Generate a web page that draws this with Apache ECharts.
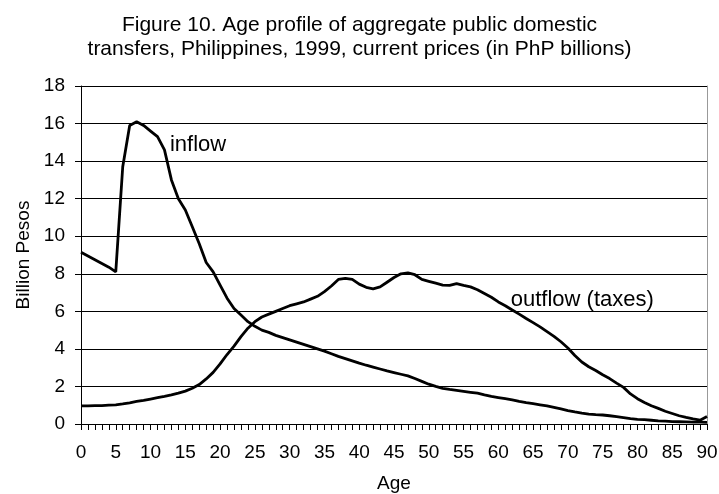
<!DOCTYPE html>
<html><head><meta charset="utf-8">
<script src="https://cdn.jsdelivr.net/npm/echarts@6/dist/echarts.min.js"></script>
<style>html,body{margin:0;padding:0;background:#fff}#c{width:719px;height:494px}</style>
</head><body><div id="c"></div>
<script>
var ages = [];
for (var a = 0; a <= 90; a++) ages.push(String(a));
var inflow = [9.15,8.95,8.75,8.55,8.35,8.1,13.7,15.9,16.1,15.9,15.6,15.3,14.6,13.0,12.0,11.4,10.5,9.6,8.6,8.1,
7.4,6.7,6.15,5.8,5.45,5.2,5.0,4.88,4.72,4.6,4.48,4.36,4.24,4.12,4.0,3.88,3.74,3.6,3.48,3.36,
3.24,3.13,3.03,2.93,2.83,2.74,2.65,2.56,2.42,2.27,2.12,2.0,1.9,1.84,1.79,1.74,1.69,1.64,1.55,1.47,
1.41,1.35,1.29,1.21,1.14,1.08,1.02,0.96,0.88,0.8,0.71,0.64,0.58,0.53,0.5,0.48,0.44,0.39,0.34,0.29,
0.25,0.23,0.2,0.17,0.15,0.13,0.12,0.11,0.1,0.1,0.09];
var outflow = [0.97,0.97,0.98,0.98,1.0,1.02,1.07,1.13,1.2,1.26,1.33,1.4,1.47,1.55,1.64,1.75,1.9,2.1,2.4,2.75,
3.2,3.7,4.15,4.65,5.1,5.45,5.7,5.85,6.0,6.15,6.3,6.4,6.5,6.65,6.8,7.05,7.35,7.7,7.75,7.7,
7.45,7.28,7.2,7.3,7.55,7.8,8.0,8.05,7.95,7.7,7.6,7.5,7.4,7.38,7.48,7.38,7.3,7.15,6.95,6.75,
6.5,6.3,6.07,5.85,5.62,5.4,5.17,4.92,4.67,4.38,4.05,3.65,3.3,3.05,2.85,2.62,2.42,2.18,1.95,1.6,
1.35,1.15,0.97,0.83,0.68,0.56,0.44,0.35,0.27,0.2,0.4];
var titleLines = "Figure 10. Age profile of aggregate public domestic\ntransfers, Philippines, 1999, current prices (in PhP billions)";
var inflowLabel = {text: "inflow", age: "13", value: 14.86};
var outflowLabel = {text: "outflow (taxes)", age: "62", value: 6.6};
var font = "Liberation Sans, Arial, sans-serif";

function annot(lbl) {
  return {symbol: 'circle', symbolSize: 1, itemStyle: {color: 'rgba(0,0,0,0)'},
    data: [{coord: [lbl.age, lbl.value], value: lbl.text,
      label: {show: true, formatter: lbl.text, position: 'right', distance: 0, offset: [-2, 0],
        fontFamily: font, fontSize: 22, color: '#000'}}]};
}

var chart = echarts.init(document.getElementById('c'));
chart.setOption({
  animation: false,
  title: {text: titleLines, left: 'center', top: 8,
    textStyle: {fontFamily: font, fontSize: 21, fontWeight: 'normal', color: '#000', lineHeight: 24}},
  grid: {left: 81, right: 12, top: 86, bottom: 70, containLabel: false, outerBoundsMode: 'none'},
  xAxis: {type: 'category', data: ages, boundaryGap: false,
    name: 'Age', nameLocation: 'middle', nameGap: 50,
    nameTextStyle: {fontFamily: font, fontSize: 19, color: '#000'},
    axisLine: {lineStyle: {color: '#000', width: 1}},
    axisTick: {interval: 0, length: 6, lineStyle: {color: '#000'}},
    axisLabel: {interval: 4, fontFamily: font, fontSize: 19, color: '#000', margin: 19},
    splitLine: {show: false}},
  yAxis: [{type: 'value', min: 0, max: 18, interval: 2,
    name: 'Billion Pesos', nameLocation: 'middle', nameGap: 47,
    nameTextStyle: {fontFamily: font, fontSize: 19, color: '#000'},
    axisLine: {show: true, lineStyle: {color: '#000'}},
    axisTick: {show: true, length: 6, lineStyle: {color: '#000'}},
    axisLabel: {fontFamily: font, fontSize: 19, color: '#000', margin: 16},
    splitLine: {lineStyle: {color: '#000', width: 1}}},
   {type: 'value', min: 0, max: 18, interval: 2, position: 'right',
    axisLine: {show: true, lineStyle: {color: '#999'}},
    axisTick: {show: false}, axisLabel: {show: false}, splitLine: {show: false}}],
  series: [
    {name: 'inflow', type: 'line', data: inflow, showSymbol: false, smooth: false,
      lineStyle: {color: '#000', width: 2.8}, markPoint: annot(inflowLabel)},
    {name: 'outflow', type: 'line', data: outflow, showSymbol: false, smooth: false,
      lineStyle: {color: '#000', width: 2.8}, markPoint: annot(outflowLabel)}
  ]
});
</script>
</body></html>
